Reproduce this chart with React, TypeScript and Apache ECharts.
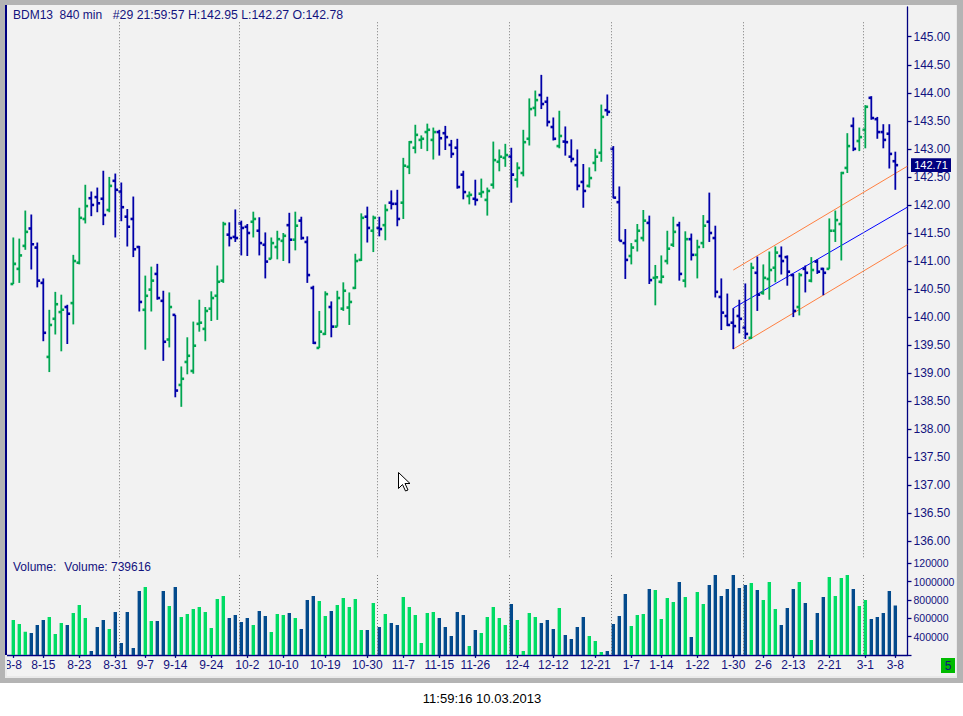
import React, { useEffect, useRef } from 'react';
import * as echarts from 'echarts';

// ---- data (one OHLC bar per index) ----
const opens = [
  140.59, 140.86, 141.27, 141.58, 141.24, 140.61, 139.29, 139.97, 140.09, 140.18,
  140.25, 140.97, 141.75, 142.12, 142.14, 142.11, 141.91, 142.43, 142.24, 141.79,
  141.75, 141.25, 140.13, 140.49, 140.77, 140.29, 139.60, 140.04, 138.79, 139.20,
  139.04, 139.88, 139.79, 140.15, 140.38, 140.65, 141.47, 141.43, 141.67, 141.61,
  141.70, 141.54, 141.29, 141.04, 141.25, 141.36, 141.64, 141.38, 141.72, 141.34,
  140.52, 139.45, 139.70, 140.18, 139.83, 140.15, 140.17, 140.52, 141.02, 141.79,
  141.54, 141.59, 141.64, 142.04, 142.02, 142.04, 142.68, 143.02, 143.16, 143.30,
  143.16, 143.30, 143.28, 143.07, 143.02, 142.54, 142.16, 142.11, 142.20, 142.09,
  142.36, 142.77, 142.84, 142.86, 142.45, 142.57, 143.18, 143.73, 143.96, 143.84,
  143.39, 143.05, 143.13, 142.86, 142.71, 142.41, 142.34, 142.75, 142.93, 143.69,
  143.00, 142.05, 141.32, 141.09, 141.36, 141.41, 141.68, 140.70, 140.63, 141.00,
  141.29, 141.64, 140.65, 141.39, 141.11, 141.32, 141.70, 141.41, 140.36, 140.02,
  139.90, 140.02, 139.81, 139.63, 140.79, 140.43, 140.68, 140.88, 141.09, 141.07,
  140.75, 140.18, 140.86, 140.65, 140.99, 140.86, 140.86, 141.54, 141.66, 142.66,
  143.41, 143.14, 143.34, 143.91, 143.53, 143.30, 143.27, 142.78,
];
const highs = [
  141.42, 141.40, 141.90, 141.83, 141.33, 140.69, 140.13, 140.45, 140.40, 140.22,
  141.11, 141.95, 142.36, 142.24, 142.31, 142.61, 142.50, 142.56, 142.40, 141.93,
  142.15, 141.27, 140.74, 140.90, 140.95, 140.47, 140.44, 140.04, 139.12, 139.64,
  139.92, 140.31, 140.18, 140.46, 140.92, 141.70, 141.69, 141.92, 141.72, 141.66,
  141.88, 141.78, 141.51, 141.42, 141.54, 141.50, 141.86, 141.88, 141.79, 141.44,
  140.56, 140.11, 140.46, 140.28, 140.47, 140.62, 140.44, 141.13, 141.85, 141.97,
  141.81, 141.79, 142.01, 142.26, 142.27, 142.84, 143.14, 143.43, 143.24, 143.45,
  143.38, 143.34, 143.41, 143.16, 143.18, 142.61, 142.24, 142.45, 142.47, 142.31,
  143.13, 142.99, 143.09, 143.02, 142.76, 143.34, 143.90, 144.04, 144.32, 143.93,
  143.56, 143.68, 143.40, 143.17, 142.99, 142.73, 142.67, 143.00, 143.79, 143.97,
  143.05, 142.33, 141.57, 141.32, 141.66, 141.91, 141.81, 140.93, 141.10, 141.54,
  141.79, 141.70, 141.53, 141.49, 141.38, 141.82, 142.22, 141.63, 140.69, 140.42,
  140.16, 140.31, 140.60, 140.97, 141.08, 140.94, 141.17, 141.26, 141.26, 141.10,
  140.77, 140.79, 140.92, 141.07, 141.03, 140.88, 141.76, 141.90, 142.59, 143.28,
  143.56, 143.38, 143.78, 143.94, 143.57, 143.44, 143.44, 142.95,
];
const lows = [
  140.59, 140.61, 141.20, 140.85, 140.53, 139.57, 139.02, 139.69, 139.39, 139.52,
  139.87, 140.94, 141.67, 141.80, 141.87, 141.64, 141.87, 141.42, 141.71, 141.26,
  141.07, 140.10, 139.42, 140.10, 140.31, 139.22, 139.46, 138.57, 138.40, 138.98,
  138.99, 139.74, 139.57, 139.93, 139.95, 140.61, 141.26, 141.34, 141.10, 141.09,
  141.42, 141.10, 140.69, 141.04, 141.03, 141.00, 140.96, 141.19, 141.38, 140.61,
  139.52, 139.45, 139.68, 139.64, 139.83, 140.11, 139.86, 140.50, 141.00, 141.33,
  141.16, 141.44, 141.37, 141.92, 141.62, 141.75, 142.55, 142.92, 143.00, 142.96,
  142.81, 142.88, 142.98, 142.84, 142.29, 142.10, 142.01, 141.99, 142.13, 141.81,
  142.29, 142.60, 142.68, 142.04, 142.31, 142.51, 143.06, 143.58, 143.71, 143.40,
  143.15, 143.01, 142.88, 142.76, 142.26, 141.95, 142.31, 142.60, 142.77, 143.59,
  142.12, 141.36, 140.68, 140.94, 141.17, 141.35, 140.59, 140.21, 140.60, 140.94,
  141.25, 140.65, 140.53, 141.01, 140.69, 141.23, 141.34, 140.35, 139.77, 139.84,
  139.43, 139.71, 139.61, 139.61, 140.11, 140.40, 140.31, 140.62, 140.76, 140.56,
  140.00, 140.03, 140.44, 140.62, 140.77, 140.39, 140.86, 141.34, 141.01, 142.57,
  142.96, 142.96, 143.01, 143.52, 143.18, 143.01, 142.65, 142.27,
];
const closes = [
  140.95, 141.10, 141.52, 141.30, 140.65, 139.72, 139.86, 140.23, 140.13, 140.06,
  141.00, 141.77, 141.98, 142.00, 142.03, 141.82, 142.34, 142.27, 141.96, 141.61,
  141.21, 140.27, 140.38, 140.65, 140.34, 139.56, 140.18, 138.69, 138.90, 139.31,
  139.49, 139.90, 140.11, 140.34, 140.63, 141.66, 141.41, 141.41, 141.59, 141.50,
  141.75, 141.32, 140.99, 141.32, 141.39, 141.45, 141.38, 141.63, 141.41, 140.75,
  139.54, 139.74, 140.41, 139.83, 140.34, 140.47, 140.27, 141.00, 141.77, 141.59,
  141.77, 141.57, 141.91, 142.02, 141.75, 142.70, 143.12, 143.25, 143.18, 143.34,
  143.30, 143.19, 143.21, 142.91, 142.32, 142.23, 142.18, 142.09, 142.23, 142.25,
  142.80, 142.86, 142.89, 142.54, 142.66, 143.12, 143.71, 143.87, 143.80, 143.48,
  143.18, 143.23, 143.12, 142.82, 142.34, 142.25, 142.48, 142.86, 143.57, 143.66,
  142.13, 141.36, 141.02, 141.24, 141.54, 141.72, 140.66, 140.71, 140.72, 141.22,
  141.52, 140.77, 141.39, 141.11, 141.25, 141.63, 141.50, 140.45, 140.08, 139.86,
  139.84, 139.97, 139.70, 140.88, 140.40, 140.70, 140.84, 141.15, 141.00, 140.81,
  140.11, 140.75, 140.79, 140.84, 140.81, 140.79, 141.54, 141.73, 142.57, 143.05,
  143.00, 143.21, 143.75, 143.55, 143.30, 143.16, 142.91, 142.71,
];
const volumes = [
  581000, 538000, 454000, 439000, 527000, 581000, 614000, 428000, 549000, 527000,
  658000, 745000, 603000, 243000, 505000, 581000, 483000, 669000, 330000, 669000,
  275000, 898000, 942000, 570000, 570000, 898000, 734000, 942000, 614000, 647000,
  702000, 723000, 669000, 494000, 811000, 844000, 603000, 636000, 560000, 603000,
  527000, 680000, 625000, 450000, 647000, 636000, 658000, 603000, 483000, 800000,
  844000, 789000, 625000, 680000, 745000, 822000, 723000, 811000, 472000, 472000,
  767000, 505000, 647000, 549000, 527000, 833000, 723000, 636000, 330000, 658000,
  669000, 603000, 505000, 406000, 669000, 636000, 297000, 472000, 439000, 614000,
  723000, 603000, 527000, 756000, 581000, 243000, 658000, 614000, 549000, 581000,
  483000, 713000, 417000, 374000, 505000, 614000, 406000, 352000, 233000, 243000,
  538000, 625000, 866000, 516000, 636000, 647000, 920000, 909000, 592000, 822000,
  778000, 997000, 833000, 396000, 887000, 756000, 964000, 1073000, 844000, 920000,
  1073000, 931000, 964000, 986000, 909000, 800000, 997000, 702000, 527000, 713000,
  920000, 997000, 767000, 363000, 658000, 833000, 1051000, 844000, 1040000, 1073000,
  920000, 734000, 800000, 592000, 614000, 658000, 898000, 739616,
];

const tickIndex = [0, 5, 11, 17, 22, 27, 33, 39, 45, 52, 59, 65, 71, 77, 84, 90, 97, 103, 108, 114, 120, 125, 130, 136, 142, 147];
const tickLabels = ['8-8', '8-15', '8-23', '8-31', '9-7', '9-14', '9-24', '10-2', '10-10', '10-19', '10-30', '11-7', '11-15', '11-26', '12-4', '12-12', '12-21', '1-7', '1-14', '1-22', '1-30', '2-6', '2-13', '2-21', '3-1', '3-8'];
const monthBreaks = [17, 37, 60, 82, 99, 121, 141];
const priceTicks = [136, 136.5, 137, 137.5, 138, 138.5, 139, 139.5, 140, 140.5, 141, 141.5, 142, 142.5, 143, 143.5, 144, 144.5, 145];
const volumeTicks = [400000, 600000, 800000, 1000000, 1200000];
const volumeTickLabels = ['400000', '600000', '800000', '1000000', '120000'];

// regression channel (start bar, end bar, prices at both ends)
const channelX = [120, 149];
const channelUpper = [140.84, 142.69];
const channelMid = [140.16, 141.96];
const channelLower = [139.43, 141.29];

const titleParts = ['BDM13', '840 min', '#29 21:59:57 H:142.95 L:142.27 O:142.78'];
const volumeTitle = ['Volume:', 'Volume: 739616'];
const footerText = '11:59:16 10.03.2013';
const cornerText = '5';

// ---- styles ----
const FONT = '"Liberation Sans", Arial, sans-serif';
const NAVY = '#12127e';
const AXIS = '#000080';
const PRICE_UP = '#00a651';
const PRICE_DOWN = '#0000a8';
const VOL_UP = '#00dc64';
const VOL_DOWN = '#034a8c';
const X_MIN = -1.05;
const X_MAX = 149.03;
const P_MIN = 135.615;
const P_MAX = 145.53;
const V_MIN = 200000;
const V_MAX = 1200000;
const SEP_TOP = 145.258;
const SEP_BOTTOM = 135.704;

export default function App() {
  const ref = useRef<HTMLDivElement>(null);

  useEffect(() => {
    if (!ref.current) return;
    const chart = echarts.init(ref.current, undefined, { renderer: 'svg' });

    const ohlc = opens.map((o, i) => [i, o, highs[i], lows[i], closes[i]]);
    const vol = volumes.map((v, i) => [i, v, closes[i] > opens[i] ? 1 : 0]);
    const lastIdx = closes.length - 1;
    const maxVol = Math.max(...volumes);

    const sepLine = (top: number, bottom: number) => ({
      silent: true,
      symbol: ['none', 'none'],
      label: { show: false },
      emphasis: { disabled: true },
      animation: false,
      lineStyle: { color: '#7a7a7a', type: [1, 2], width: 1 },
      data: monthBreaks.map((b) => [
        { coord: [b + 0.65, top] },
        { coord: [b + 0.65, bottom] },
      ]),
    });

    const channel = (vals: number[], color: string, withSep: boolean) => ({
      type: 'line',
      xAxisIndex: 0,
      yAxisIndex: 0,
      data: [[channelX[0], vals[0]], [channelX[1], vals[1]]],
      symbol: 'none',
      silent: true,
      lineStyle: { color, width: 1 },
      z: 3,
      ...(withSep ? { markLine: sepLine(SEP_TOP, SEP_BOTTOM) } : {}),
    });

    const option: any = {
      animation: false,
      backgroundColor: '#ffffff',
      grid: [
        { left: 7, top: 7, width: 900.5, height: 556, outerBoundsMode: 'none', containLabel: false },
        { left: 7, top: 563.4, width: 900.5, height: 91.5, outerBoundsMode: 'none', containLabel: false },
      ],
      xAxis: [
        { type: 'value', gridIndex: 0, min: X_MIN, max: X_MAX, show: false, axisLine: { onZero: false } },
        {
          type: 'value', gridIndex: 1, min: X_MIN, max: X_MAX,
          axisLine: { onZero: false, lineStyle: { color: AXIS, width: 1.3 } },
          axisTick: { customValues: tickIndex, length: 3, lineStyle: { color: AXIS, width: 1.3 } },
          axisLabel: {
            customValues: tickIndex,
            color: NAVY, fontSize: 12, fontFamily: FONT, margin: 4.5,
            formatter: (v: number) => {
              const i = tickIndex.indexOf(Math.round(v));
              return i >= 0 ? tickLabels[i] : '';
            },
          },
          splitLine: { show: false },
        },
      ],
      yAxis: [
        {
          type: 'value', gridIndex: 0, position: 'right', min: P_MIN, max: P_MAX,
          axisLine: { show: true, onZero: false, lineStyle: { color: AXIS, width: 1.3 } },
          axisTick: { show: true, customValues: priceTicks, length: 4, lineStyle: { color: AXIS, width: 1.3 } },
          axisLabel: {
            customValues: priceTicks,
            color: NAVY, fontSize: 12, fontFamily: FONT, margin: 6,
            formatter: (v: number) => v.toFixed(2),
          },
          splitLine: { show: false },
        },
        {
          type: 'value', gridIndex: 1, position: 'right', min: V_MIN, max: V_MAX, interval: 200000,
          axisLine: { show: true, onZero: false, lineStyle: { color: AXIS, width: 1.3 } },
          axisTick: { show: true, length: 4, lineStyle: { color: AXIS, width: 1.3 } },
          axisLabel: {
            color: NAVY, fontSize: 10.5, fontFamily: FONT, margin: 6,
            showMinLabel: true, showMaxLabel: true,
            formatter: (v: number) => {
              const i = volumeTicks.indexOf(v);
              return i >= 0 ? volumeTickLabels[i] : '';
            },
          },
          splitLine: { show: false },
        },
      ],
      graphic: [
        { type: 'rect', z: -10, silent: true, shape: { x: 0, y: 0, width: 963, height: 683 }, style: { fill: '#b4b4b4' } },
        { type: 'rect', z: -9, silent: true, shape: { x: 5, y: 5, width: 952, height: 673 }, style: { fill: '#e9e9e9' } },
        { type: 'rect', z: -8, silent: true, shape: { x: 5, y: 5, width: 951, height: 671 }, style: { fill: '#f2f2f2' } },
        { type: 'rect', z: 100, silent: true, shape: { x: 0, y: 0, width: 5, height: 683 }, style: { fill: '#b4b4b4' } },
        { type: 'rect', z: 100, silent: true, shape: { x: 5, y: 655, width: 2, height: 23 }, style: { fill: '#e9e9e9' } },
        { type: 'rect', z: 100, silent: true, shape: { x: 5, y: 5, width: 2, height: 650 }, style: { fill: AXIS } },
        { type: 'text', x: 13, y: 15, silent: true, style: { text: titleParts[0], fill: NAVY, fontSize: 12, fontFamily: FONT, verticalAlign: 'middle' } },
        { type: 'text', x: 59.5, y: 15, silent: true, style: { text: titleParts[1], fill: NAVY, fontSize: 12, fontFamily: FONT, verticalAlign: 'middle' } },
        { type: 'text', x: 112.7, y: 15, silent: true, style: { text: titleParts[2], fill: NAVY, fontSize: 12.3, fontFamily: FONT, verticalAlign: 'middle' } },
        { type: 'text', x: 13, y: 567, silent: true, style: { text: volumeTitle[0], fill: NAVY, fontSize: 12, fontFamily: FONT, verticalAlign: 'middle' } },
        { type: 'text', x: 64.3, y: 567, silent: true, style: { text: volumeTitle[1], fill: NAVY, fontSize: 12, fontFamily: FONT, verticalAlign: 'middle' } },
        { type: 'rect', silent: true, shape: { x: 941, y: 658, width: 14, height: 15 }, style: { fill: '#00bb00' } },
        { type: 'text', x: 948, y: 665.5, silent: true, style: { text: cornerText, fill: NAVY, fontSize: 12, fontFamily: FONT, align: 'center', verticalAlign: 'middle' } },
        { type: 'text', x: 482, y: 698, silent: true, style: { text: footerText, fill: '#000000', fontSize: 13, fontFamily: FONT, align: 'center', verticalAlign: 'middle' } },
        {
          type: 'polygon', z: 100, silent: true, x: 398.5, y: 472.5,
          shape: { points: [[0, 0], [0, 16], [4, 12], [7, 18.5], [9.5, 17.5], [6.5, 11], [11.5, 11]] },
          style: { fill: '#ffffff', stroke: '#000000', lineWidth: 1 },
        },
      ],
      series: [
        channel(channelUpper, '#ff7f40', true),
        channel(channelMid, '#0000ff', false),
        channel(channelLower, '#ff7f40', false),
        {
          type: 'custom',
          xAxisIndex: 0,
          yAxisIndex: 0,
          data: ohlc,
          encode: { x: 0, y: [1, 2, 3, 4] },
          clip: true,
          z: 4,
          renderItem: (params: any, api: any) => {
            const k = api.value(0);
            const o = api.value(1);
            const c = api.value(4);
            const pH = api.coord([k, api.value(2)]);
            const pL = api.coord([k, api.value(3)]);
            const pO = api.coord([k, o]);
            const pC = api.coord([k, c]);
            const color = c > o ? PRICE_UP : PRICE_DOWN;
            const x = pH[0];
            return {
              type: 'group',
              children: [
                { type: 'rect', shape: { x: x - 0.9, y: pH[1], width: 1.8, height: Math.max(1, pL[1] - pH[1]) }, style: { fill: color } },
                { type: 'rect', shape: { x: x - 2.8, y: pO[1] - 1.3, width: 2.8, height: 2.6 }, style: { fill: color } },
                { type: 'rect', shape: { x: x, y: pC[1] - 1.3, width: 2.8, height: 2.6 }, style: { fill: color } },
              ],
            };
          },
        },
        {
          type: 'custom',
          xAxisIndex: 0,
          yAxisIndex: 0,
          data: [[lastIdx, closes[lastIdx]]],
          encode: { x: 0, y: 1 },
          clip: false,
          z: 20,
          renderItem: (params: any, api: any) => {
            const p = api.coord([api.value(0), api.value(1)]);
            const right = params.coordSys.x + params.coordSys.width;
            return {
              type: 'group',
              children: [
                { type: 'rect', shape: { x: right + 3.5, y: p[1] - 6.8, width: 40, height: 13.6 }, style: { fill: '#000080' } },
                {
                  type: 'text', x: right + 23.5, y: p[1] + 0.3,
                  style: { text: api.value(1).toFixed(2), fill: '#ffffff', fontSize: 11, fontFamily: FONT, align: 'center', verticalAlign: 'middle' },
                },
              ],
            };
          },
        },
        {
          type: 'line',
          xAxisIndex: 1,
          yAxisIndex: 1,
          data: [],
          silent: true,
          markLine: sepLine(maxVol, V_MIN),
        },
        {
          type: 'custom',
          xAxisIndex: 1,
          yAxisIndex: 1,
          data: vol,
          encode: { x: 0, y: 1 },
          clip: true,
          z: 4,
          renderItem: (params: any, api: any) => {
            const k = api.value(0);
            const top = api.coord([k, api.value(1)]);
            const base = api.coord([k, V_MIN]);
            const color = api.value(2) ? VOL_UP : VOL_DOWN;
            return {
              type: 'rect',
              shape: { x: top[0] - 1.7, y: top[1], width: 3.4, height: base[1] - top[1] },
              style: { fill: color },
            };
          },
        },
      ],
    };

    chart.setOption(option);
    return () => chart.dispose();
  }, []);

  return (
    <div style={{ position: 'absolute', left: 0, top: 0, width: 963, height: 716, background: '#ffffff' }}>
      <div ref={ref} style={{ width: 963, height: 716 }} />
    </div>
  );
}
